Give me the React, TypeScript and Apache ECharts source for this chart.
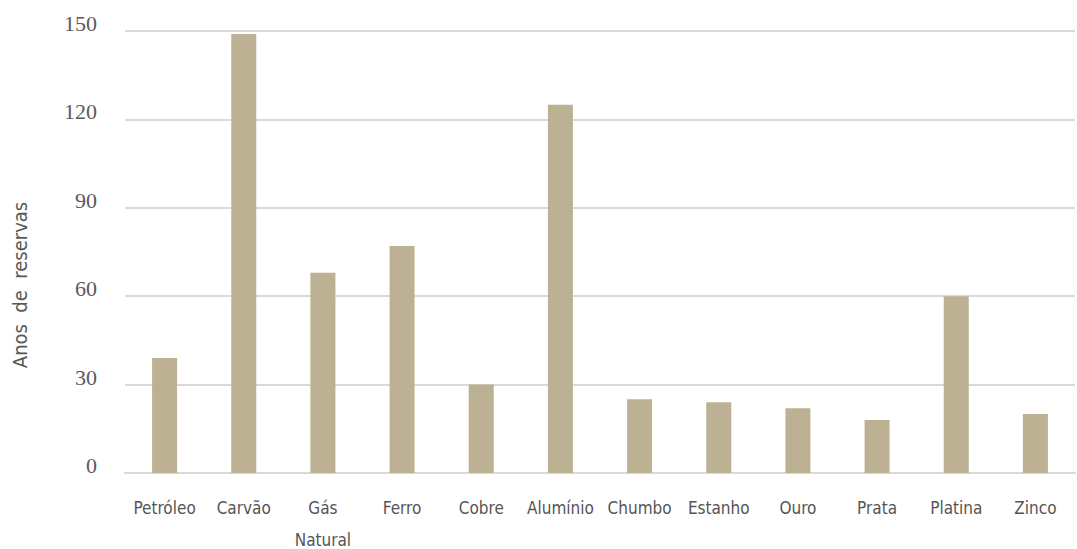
import React, { useEffect, useRef } from "react";
import * as echarts from "echarts";

const categories = ["Petróleo", "Carvão", "Gás Natural", "Ferro", "Cobre", "Alumínio", "Chumbo", "Estanho", "Ouro", "Prata", "Platina", "Zinco"];
const values = [39, 149, 68, 77, 30, 125, 25, 24, 22, 18, 60, 20];
const yTicks = [0, 30, 60, 90, 120, 150];
const yAxisName = "Anos  de  reservas";

const SANS = "DejaVu Sans Condensed, Liberation Sans Narrow, sans-serif";

export default function App() {
  const ref = useRef<HTMLDivElement>(null);
  useEffect(() => {
    const chart = echarts.init(ref.current!, null, { renderer: "svg" });
    chart.setOption({
      animation: false,
      grid: { left: 125, right: 2, top: 31, bottom: 76, containLabel: false, outerBoundsMode: "none" },
      graphic: [
        {
          type: "text",
          x: 20,
          y: 285,
          rotation: Math.PI / 2,
          style: {
            text: yAxisName,
            fill: "#595959",
            font: `20px ${SANS}`,
            align: "center",
            verticalAlign: "middle",
          },
        },
      ],
      xAxis: {
        type: "category",
        data: categories,
        axisLine: { show: true, lineStyle: { color: "#d9d9d9", width: 2 } },
        axisTick: { show: false },
        axisLabel: {
          interval: 0,
          margin: 19,
          color: "#555555",
          fontFamily: SANS,
          fontSize: 17,
          lineHeight: 32,
          formatter: (v: string) => v.replace(" ", "\n"),
        },
      },
      yAxis: {
        type: "value",
        min: yTicks[0],
        max: yTicks[yTicks.length - 1],
        interval: 30,
        axisLine: { show: false },
        axisTick: { show: false },
        axisLabel: {
          margin: 28,
          color: "#595959",
          fontFamily: "Liberation Serif, serif",
          fontSize: 22,
          verticalAlign: "bottom",
          lineHeight: 15,
        },
        splitLine: { lineStyle: { color: "#d9d9d9", width: 2 } },
      },
      series: [
        {
          type: "bar",
          data: values,
          barWidth: 25,
          itemStyle: { color: "#bcb192" },
        },
      ],
    });
    return () => chart.dispose();
  }, []);
  return <div ref={ref} style={{ width: 1077, height: 549, position: "absolute", left: 0, top: 0 }} />;
}
